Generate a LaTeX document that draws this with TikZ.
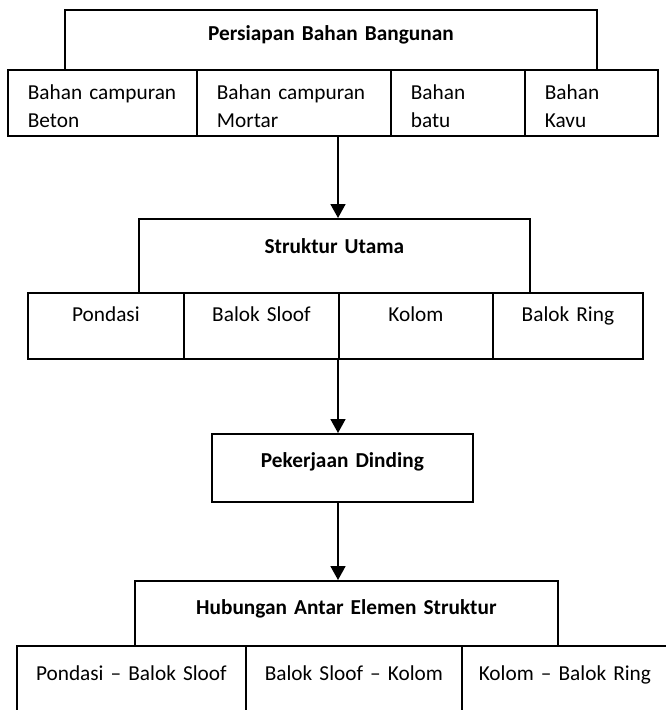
\documentclass[tikz,border=0pt]{standalone}
\usepackage{fontspec}
\setmainfont[WordSpace=0.75]{Carlito}
\usetikzlibrary{arrows.meta,positioning}
\newcommand{\selfont}{\fontsize{21.3}{27.5}\selectfont}
\tikzset{
  kotak/.style={draw=black, line width=1.8pt, anchor=north west, inner ysep=0pt, font=\selfont},
  judul/.style={kotak, font=\selfont\bfseries, align=center, inner xsep=0pt},
  sel/.style={kotak, align=left, inner xsep=20pt},
  selc/.style={kotak, align=center, inner xsep=0pt},
  panah/.style={line width=1.8pt, -{Triangle[length=14pt,width=15pt]}},
}

\begin{document}
\begin{tikzpicture}[x=1pt,y=-1pt]
    \useasboundingbox (0,0) rectangle (666,710);
    % persiapan bahan
    \node[judul, text width=532pt, text height=31pt, text depth=29pt] (persiapan) at (64,9) {Persiapan Bahan Bangunan};
    \node[sel, text width=149pt, text height=30pt, text depth=36pt] (beton) at (7,69) {Bahan campuran\\Beton};
    \node[sel, text width=154pt, text height=30pt, text depth=36pt] (mortar) at (196,69) {Bahan campuran\\Mortar};
    \node[sel, text width=94pt, text height=30pt, text depth=36pt] (batu) at (390,69) {Bahan\\batu};
    \node[sel, text width=93pt, text height=30pt, text depth=36pt] (kayu) at (524,69) {Bahan\\Kavu};
    % struktur utama
    \node[judul, text width=391pt, text height=35pt, text depth=39pt] (struktur) at (138,218) {Struktur Utama};
    \node[selc, text width=156pt, text height=29pt, text depth=37pt] (pondasi) at (27,292) {Pondasi};
    \node[selc, text width=155pt, text height=29pt, text depth=37pt] (sloof) at (183,292) {Balok Sloof};
    \node[selc, text width=154pt, text height=29pt, text depth=37pt] (kolom) at (338,292) {Kolom};
    \node[selc, text width=150pt, text height=29pt, text depth=37pt] (ring) at (492,292) {Balok Ring};
    % dinding
    \node[judul, text width=261pt, text height=34pt, text depth=34pt] (dinding) at (211,433) {Pekerjaan Dinding};
    % hubungan
    \node[judul, text width=423pt, text height=34pt, text depth=31pt] (hubungan) at (134,580) {Hubungan Antar Elemen Struktur};
    \node[selc, text width=229pt, text height=35pt, text depth=40pt] (pondsloof) at (16,645) {Pondasi \textendash{} Balok Sloof};
    \node[selc, text width=216pt, text height=35pt, text depth=40pt] (sloofkolom) at (245,645) {Balok Sloof \textendash{} Kolom};
    \node[selc, text width=206pt, text height=35pt, text depth=40pt] (kolomring) at (461,645) {Kolom \textendash{} Balok Ring};
    % panah
    \draw[panah] (mortar.south -| kolom.west) -- (struktur.north -| kolom.west);
    \draw[panah] (kolom.south west) -- (dinding.north -| kolom.west);
    \draw[panah] (dinding.south -| kolom.west) -- (hubungan.north -| kolom.west);
\end{tikzpicture}
\end{document}
